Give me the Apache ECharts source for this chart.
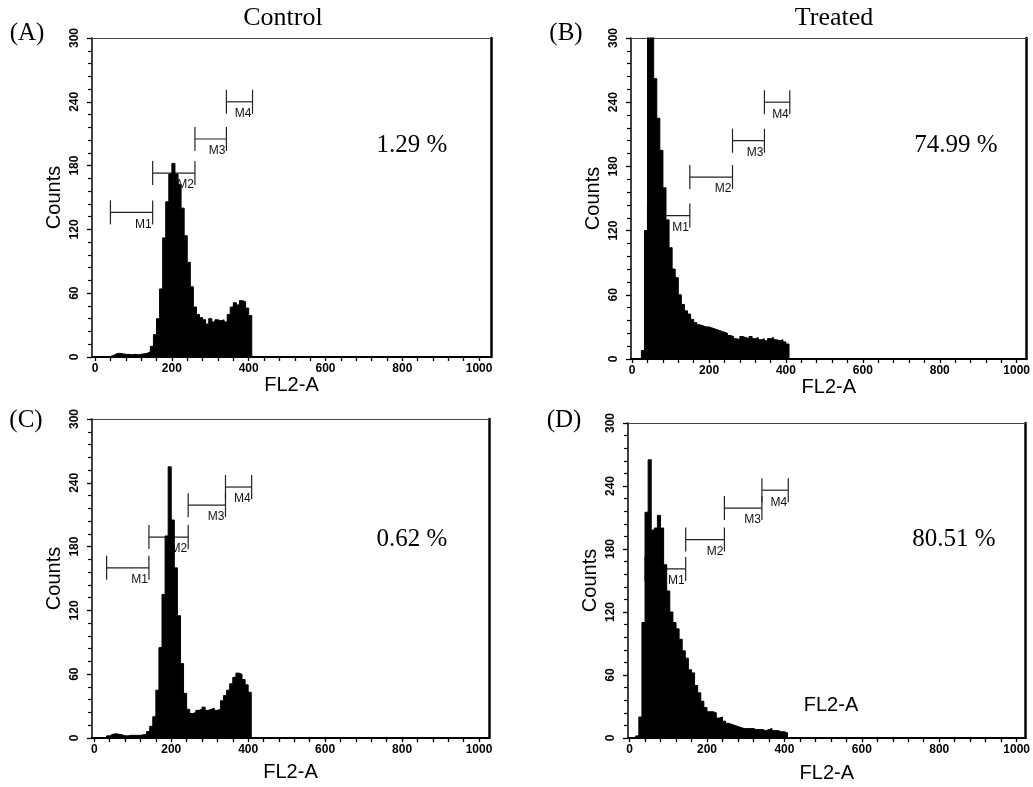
<!DOCTYPE html>
<html><head><meta charset="utf-8">
<script src="https://cdn.jsdelivr.net/npm/echarts@6/dist/echarts.min.js"></script>
<style>html,body{margin:0;padding:0;background:#fff}#c{width:1033px;height:787px}</style>
</head><body><div id="c"></div>
<script>
// ---- data ----
const binWidth = 8; // channels per histogram bin (FL2-A)
const countsA = [0,0,0,0,0.5,1.5,3,3.5,3,2.5,2.5,2,2.5,2,2.5,3,3.5,5,10,21,36,64,112,146,172,182,172,162,140,114,89,66,47,40,37,35,31,36,33,35,34,35,33,40,47,51,49,53,52,46,39];
const countsB = [0,0,0,8,120,320,310,262,225,195,160,130,104,84,76,60,51,45,42,37,34,32,31,30,30,29,28,27,26,25,24,22,21,19,18,21,20,19,21,19,20,18,19,17,19,20,18,17,18,16,14];
const countsC = [0,0,0,0,2,3.5,4,3.5,3,2,2,2.5,2.5,2.5,2.5,3,3.5,6,11,20,45,85,135,190,255,205,160,115,70,42,27,23,24,26,27,29,26,27,28,26,27,35,40,45,51,57,61,60,55,50,43];
const countsD = [0,0,2,20,110,215,265,198,200,212,200,165,140,120,110,104,94,83,76,65,62,50,43,35,29,25,25,24,19,20,16,14,13,12,11,10,9,9,9,9,8,8,8,7,8,9,7,7,6,6,5];

const xTickLabels = [0,200,400,600,800,1000];
const yTickLabels = [0,60,120,180,240,300];
const columnTitles = ['Control','Treated'];
const panelLetters = ['(A)','(B)','(C)','(D)'];
const percentLabels = ['1.29 %','74.99 %','0.62 %','80.51 %'];
const markerNames = ['M1','M2','M3','M4'];
// [start channel, end channel, count level]
const markersA = [[40,150,136],[150,260,173],[260,342,205],[342,410,240]];
const markersB = [[40,150,134],[150,261,170],[261,344,204],[344,410,240]];
const markersC = [[32,142,160],[142,244,189],[244,341,219],[341,409,236]];
const markersD = [[40,145,161],[145,245,189],[245,342,219],[342,410,236]];
const axisTitleX = 'FL2-A', axisTitleY = 'Counts';

// ---- layout ----
const panels = [
  {grid:{left:92,top:38,width:399,height:319}, xMin:-8, xMax:1031, counts:countsA, markers:markersA, xGap:15},
  {grid:{left:631,top:38,width:397,height:321}, xMin:-3, xMax:1026, counts:countsB, markers:markersB, xGap:15},
  {grid:{left:92,top:419,width:397,height:319}, xMin:-6, xMax:1026, counts:countsC, markers:markersC, xGap:24},
  {grid:{left:628,top:423,width:398,height:315}, xMin:-4, xMax:1023, counts:countsD, markers:markersD, xGap:25}
];
const SANS = '"Liberation Sans", Arial, sans-serif';
const SERIF = '"Liberation Serif", "Times New Roman", serif';
const xMinorTicks = []; for (let v = 0; v <= 1000; v += 40) xMinorTicks.push(v);

const grids = [], xAxes = [], yAxes = [], series = [];
panels.forEach((p, k) => {
  grids.push(Object.assign({containLabel:false}, p.grid));
  xAxes.push({type:'value', gridIndex:k, position:'bottom', min:p.xMin, max:p.xMax,
    name:axisTitleX, nameLocation:'middle', nameGap:p.xGap,
    nameTextStyle:{fontFamily:SANS, fontSize:20, color:'#000', verticalAlign:'top'},
    axisLine:{onZero:false, lineStyle:{color:'#000', width:2}},
    axisTick:{show:true, customValues:xMinorTicks, length:4, lineStyle:{color:'#000', width:1.3}},
    axisLabel:{customValues:xTickLabels, formatter:v => String(v), fontFamily:SANS, fontSize:12, fontWeight:'bold', color:'#000', margin:6},
    splitLine:{show:false}});
  xAxes.push({type:'value', gridIndex:k, position:'top', min:p.xMin, max:p.xMax,
    axisLine:{onZero:false, lineStyle:{color:'#444', width:1.2}},
    axisTick:{show:false}, axisLabel:{show:false}, splitLine:{show:false}});
  yAxes.push({type:'value', gridIndex:k, position:'left', min:0, max:300, interval:60,
    name:axisTitleY, nameLocation:'middle', nameGap:28, nameRotate:90,
    nameTextStyle:{fontFamily:SANS, fontSize:20, color:'#000'},
    axisLine:{onZero:false, lineStyle:{color:'#000', width:1.5}},
    axisTick:{show:true, length:5, lineStyle:{color:'#000', width:1.3}},
    minorTick:{show:true, splitNumber:5, length:4, lineStyle:{color:'#000', width:1.2}},
    axisLabel:{customValues:yTickLabels, formatter:v => String(v), rotate:90, fontFamily:SANS, fontSize:12, fontWeight:'bold', color:'#000', margin:11},
    splitLine:{show:false}});
  yAxes.push({type:'value', gridIndex:k, position:'right', min:0, max:300,
    axisLine:{onZero:false, lineStyle:{color:'#000', width:2.5}},
    axisTick:{show:false}, axisLabel:{show:false}, splitLine:{show:false}});

  const pts = p.counts.map((c, i) => [i * binWidth, c]);
  pts.push([p.counts.length * binWidth, 0]);
  series.push({type:'line', xAxisIndex:2*k, yAxisIndex:2*k, data:pts, step:'end',
    symbol:'none', clip:true, silent:true, animation:false,
    lineStyle:{color:'#000', width:1}, areaStyle:{color:'#000', opacity:1}});

  series.push({type:'custom', xAxisIndex:2*k, yAxisIndex:2*k, data:p.markers, animation:false, silent:true,
    renderItem:(params, api) => {
      const a = api.coord([api.value(0), api.value(2)]);
      const b = api.coord([api.value(1), api.value(2)]);
      const h = 12;
      const ls = {stroke:'#222', lineWidth:1.2};
      return {type:'group', children:[
        {type:'line', shape:{x1:a[0], y1:a[1], x2:b[0], y2:b[1]}, style:ls},
        {type:'line', shape:{x1:a[0], y1:a[1]-h, x2:a[0], y2:a[1]+h}, style:ls},
        {type:'line', shape:{x1:b[0], y1:b[1]-h, x2:b[0], y2:b[1]+h}, style:ls},
        {type:'text', style:{text:markerNames[params.dataIndex], x:b[0]-1, y:b[1]+12,
          align:'right', verticalAlign:'middle', font:'12px ' + SANS, fill:'#111'}}
      ]};
    }});
});

const graphic = [
  {type:'text', x:283, y:18, style:{text:columnTitles[0], font:'26px ' + SERIF, fill:'#000', align:'center', verticalAlign:'middle'}},
  {type:'text', x:834, y:18, style:{text:columnTitles[1], font:'26px ' + SERIF, fill:'#000', align:'center', verticalAlign:'middle'}},
  {type:'text', x:27, y:33, style:{text:panelLetters[0], font:'25px ' + SERIF, fill:'#000', align:'center', verticalAlign:'middle'}},
  {type:'text', x:566, y:33, style:{text:panelLetters[1], font:'25px ' + SERIF, fill:'#000', align:'center', verticalAlign:'middle'}},
  {type:'text', x:26, y:420, style:{text:panelLetters[2], font:'25px ' + SERIF, fill:'#000', align:'center', verticalAlign:'middle'}},
  {type:'text', x:564, y:420, style:{text:panelLetters[3], font:'25px ' + SERIF, fill:'#000', align:'center', verticalAlign:'middle'}},
  {type:'text', x:412, y:145, style:{text:percentLabels[0], font:'25px ' + SERIF, fill:'#000', align:'center', verticalAlign:'middle'}},
  {type:'text', x:956, y:145, style:{text:percentLabels[1], font:'25px ' + SERIF, fill:'#000', align:'center', verticalAlign:'middle'}},
  {type:'text', x:412, y:539, style:{text:percentLabels[2], font:'25px ' + SERIF, fill:'#000', align:'center', verticalAlign:'middle'}},
  {type:'text', x:954, y:539, style:{text:percentLabels[3], font:'25px ' + SERIF, fill:'#000', align:'center', verticalAlign:'middle'}},
  {type:'text', x:831, y:705, style:{text:axisTitleX, font:'20px ' + SANS, fill:'#000', align:'center', verticalAlign:'middle'}}
];

const chart = echarts.init(document.getElementById('c'), null, {renderer:'canvas'});
chart.setOption({animation:false, backgroundColor:'#fff', grid:grids, xAxis:xAxes, yAxis:yAxes, series:series, graphic:graphic});
</script></body></html>
